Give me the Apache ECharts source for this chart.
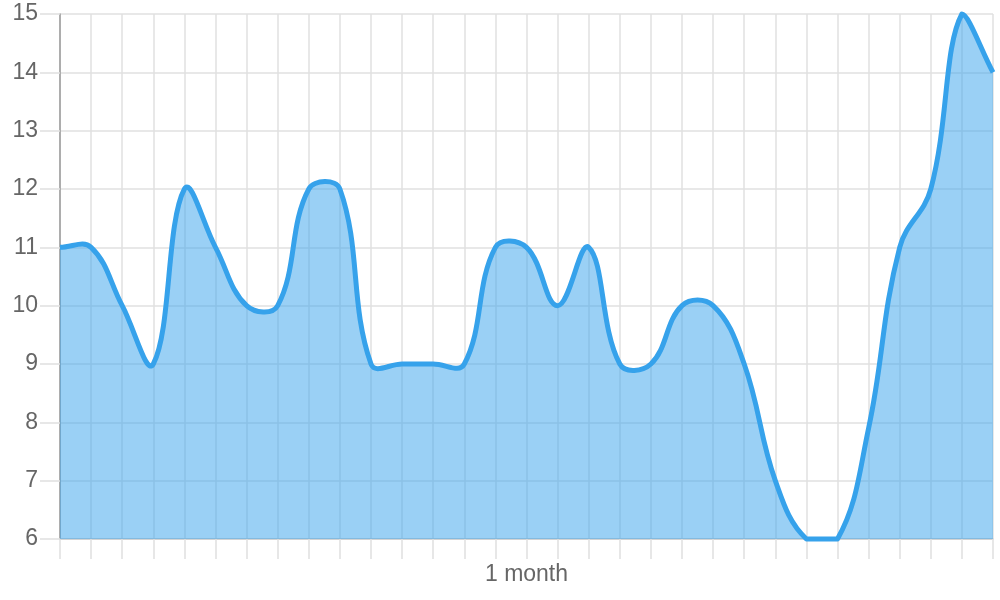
<!DOCTYPE html>
<html>
<head>
<meta charset="utf-8">
<script src="https://cdn.jsdelivr.net/npm/echarts@6/dist/echarts.min.js"></script>
<style>
  html, body { margin: 0; padding: 0; background: #fff; }
  #main { width: 1000px; height: 600px; }
</style>
</head>
<body>
<div id="main"></div>
<script>
// one point per day
var days = [];
for (var d = 1; d <= 31; d++) days.push('Day ' + d);

var values = [
  11, 11, 10, 9, 12, 11, 10, 10, 12, 12,
  9, 9, 9, 9, 11, 11, 10, 11, 9, 9,
  10, 10, 9, 7, 6, 6, 7.9, 11, 12, 15,
  14
];

var yTicks = { min: 6, max: 15, step: 1 };
var axisTitle = '1 month';

var myChart = echarts.init(document.getElementById('main'));

var gridColor = '#e0e0e0';
var textColor = '#666';
var lineColor = 'rgb(54,162,235)';
var fillColor = 'rgba(54,162,235,0.5)';
var tension = 0.4;

// bezier spline like the original (tension based, may overshoot a little),
// control points kept inside the plot area
function splinePath(pts, top, bottom) {
    var cps = pts.map(function (p, i) {
        var prev = pts[i - 1] || p;
        var next = pts[i + 1] || p;
        var d01 = Math.hypot(p[0] - prev[0], p[1] - prev[1]);
        var d12 = Math.hypot(next[0] - p[0], next[1] - p[1]);
        var s01 = d01 / (d01 + d12) || 0;
        var s12 = d12 / (d01 + d12) || 0;
        var fa = tension * s01, fb = tension * s12;
        var cap = function (y) { return Math.max(top, Math.min(bottom, y)); };
        return {
            prev: [p[0] - fa * (next[0] - prev[0]), cap(p[1] - fa * (next[1] - prev[1]))],
            next: [p[0] + fb * (next[0] - prev[0]), cap(p[1] + fb * (next[1] - prev[1]))]
        };
    });
    var d = 'M' + pts[0][0] + ' ' + pts[0][1];
    for (var i = 1; i < pts.length; i++) {
        var a = cps[i - 1].next, b = cps[i].prev, p = pts[i];
        d += ' C' + a[0] + ' ' + a[1] + ' ' + b[0] + ' ' + b[1] + ' ' + p[0] + ' ' + p[1];
    }
    return d;
}

var option = {
    animation: false,
    grid: {
        left: 60,
        right: 7,
        top: 14,
        bottom: 61
    },
    xAxis: {
        type: 'category',
        data: days,
        boundaryGap: false,
        name: axisTitle,
        nameLocation: 'middle',
        nameGap: 36,
        nameTextStyle: {
            color: textColor,
            fontSize: 23,
            fontFamily: 'Liberation Sans, Arial, sans-serif',
            verticalAlign: 'middle'
        },
        axisLine: { lineStyle: { color: '#cccccc', width: 1.5 } },
        axisTick: { show: true, interval: 0, length: 20, lineStyle: { color: gridColor, width: 1.5 } },
        axisLabel: { show: false },
        splitLine: { show: true, interval: 0, lineStyle: { color: gridColor, width: 1.5 } }
    },
    yAxis: {
        type: 'value',
        min: yTicks.min,
        max: yTicks.max,
        interval: yTicks.step,
        axisLine: { show: true, lineStyle: { color: '#9a9a9a', width: 1.5 } },
        axisTick: { show: true, length: 20, lineStyle: { color: gridColor, width: 1.5 } },
        axisLabel: {
            color: textColor,
            fontSize: 23,
            fontFamily: 'Liberation Sans, Arial, sans-serif',
            margin: 22
        },
        splitLine: { show: true, lineStyle: { color: gridColor, width: 1.5 } }
    },
    series: [
        {
            type: 'custom',
            data: values.map(function (v, i) { return [i, v]; }),
            encode: { x: 0, y: 1 },
            clip: false,
            renderItem: function (params, api) {
                if (params.dataIndex !== 0) return null;
                var pts = values.map(function (v, i) { return api.coord([i, v]); });
                var top = api.coord([0, yTicks.max])[1];
                var bottom = api.coord([0, yTicks.min])[1];
                var line = splinePath(pts, top, bottom);
                var last = pts[pts.length - 1];
                var area = line + ' L' + last[0] + ' ' + bottom + ' L' + pts[0][0] + ' ' + bottom + ' Z';
                return {
                    type: 'group',
                    children: [
                        { type: 'path', shape: { pathData: area }, style: { fill: fillColor, stroke: null } },
                        {
                            type: 'path',
                            shape: { pathData: line },
                            style: { fill: null, stroke: lineColor, lineWidth: 5, lineJoin: 'round', lineCap: 'butt' }
                        }
                    ]
                };
            }
        }
    ]
};

myChart.setOption(option);
</script>
</body>
</html>
